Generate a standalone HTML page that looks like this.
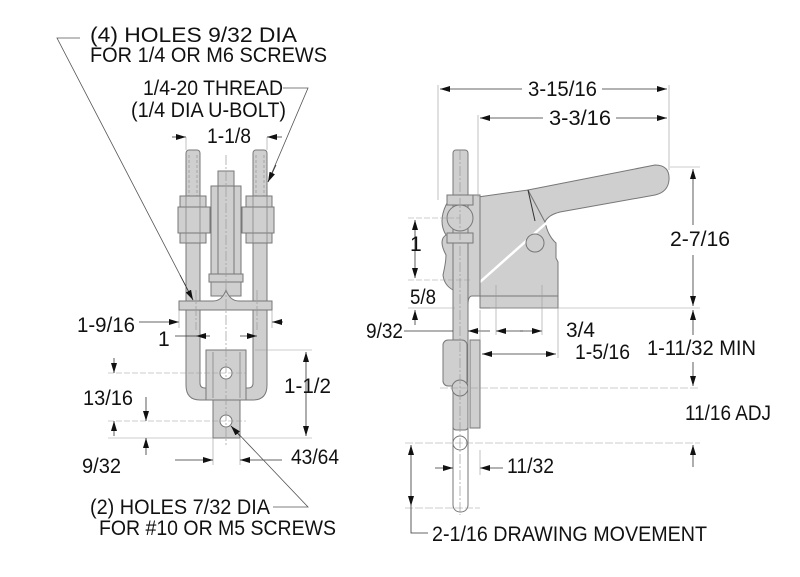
<!DOCTYPE html>
<html><head><meta charset="utf-8"><style>
html,body{margin:0;padding:0;background:#fff}
svg{display:block}
text{font-family:"Liberation Sans",Arial,sans-serif;font-size:21px;fill:#111}
.p{fill:#cfcfcf;stroke:#777;stroke-width:1}
.d{stroke:#333;stroke-width:0.8;fill:none}
.c{stroke:#999;stroke-width:0.7;fill:none;stroke-dasharray:10 2 2 2}
.h{stroke:#888;stroke-width:0.6;fill:none;stroke-dasharray:3 2}
.w{fill:#fff;stroke:#777;stroke-width:1}
</style></head><body>
<svg width="800" height="577" viewBox="0 0 800 577" xmlns="http://www.w3.org/2000/svg">
<defs>
<marker id="a" viewBox="0 0 10 6" refX="10" refY="3" markerWidth="10" markerHeight="6" orient="auto-start-reverse" markerUnits="userSpaceOnUse"><path d="M0,0L10,3L0,6z" fill="#111"/></marker>
</defs>

<!-- ===== LEFT VIEW ===== -->
<rect class="p" x="186" y="150" width="14" height="100" rx="3"/>
<rect class="p" x="253" y="150" width="14" height="100" rx="3"/>
<line class="h" x1="189" y1="155" x2="189" y2="255"/><line class="h" x1="197" y1="155" x2="197" y2="255"/>
<line class="h" x1="256" y1="155" x2="256" y2="255"/><line class="h" x1="264" y1="155" x2="264" y2="255"/>
<path class="p" d="M186,243 L186,385 Q186,400 200,400 L253,400 Q267,400 267,385 L267,243 L253,243 L253,383 Q253,388 248,388 L205,388 Q200,388 200,383 L200,243 Z"/>
<rect class="p" x="218" y="171" width="16" height="20"/>
<rect class="p" x="211" y="186" width="30" height="110"/>
<rect class="p" x="218" y="186" width="16" height="90"/>
<rect class="p" x="209" y="274" width="34" height="8"/>
<rect class="p" x="180" y="196" width="26" height="47"/>
<rect class="p" x="178" y="207" width="32" height="26"/>
<rect class="p" x="246" y="196" width="26" height="47"/>
<rect class="p" x="242" y="207" width="32" height="26"/>
<line x1="186" y1="196" x2="186" y2="243" stroke="#888" stroke-width="0.8"/><line x1="200" y1="196" x2="200" y2="243" stroke="#888" stroke-width="0.8"/>
<line x1="253" y1="196" x2="253" y2="243" stroke="#888" stroke-width="0.8"/><line x1="267" y1="196" x2="267" y2="243" stroke="#888" stroke-width="0.8"/>
<path class="p" d="M179,301 L213,301 Q222,301 226,290 Q230,301 239,301 L272,301 L272,310 L179,310 Z"/>
<rect class="p" x="213" y="398" width="27" height="40"/>
<rect class="p" x="206" y="350" width="40" height="50"/>
<line x1="213" y1="352" x2="213" y2="398" stroke="#888" stroke-width="0.8"/><line x1="240" y1="352" x2="240" y2="398" stroke="#888" stroke-width="0.8"/>
<circle class="w" cx="226" cy="373" r="6"/>
<circle class="w" cx="226" cy="421" r="6"/>
<line class="c" x1="226" y1="155" x2="226" y2="445"/>
<line class="c" x1="196" y1="290" x2="196" y2="330"/><line class="c" x1="257" y1="290" x2="257" y2="330"/>

<line class="d" x1="172" y1="137" x2="186" y2="137" marker-end="url(#a)"/>
<line class="d" x1="267" y1="137" x2="282" y2="137" marker-start="url(#a)"/>
<line x1="186" y1="137" x2="186" y2="150" stroke="#999" stroke-width="0.6"/><line x1="267" y1="137" x2="267" y2="150" stroke="#999" stroke-width="0.6"/>
<text x="207" y="143" textLength="44" lengthAdjust="spacingAndGlyphs">1-1/8</text>
<polyline class="d" points="80,38 57,38 193,300" style="stroke:#555"/>
<line class="d" x1="180" y1="275" x2="193" y2="300" marker-end="url(#a)"/>
<polyline class="d" points="283,88 308,88 268,182" style="stroke:#555"/>
<line class="d" x1="276" y1="165" x2="268" y2="182" marker-end="url(#a)"/>
<text x="90" y="42" textLength="207" lengthAdjust="spacingAndGlyphs">(4) HOLES 9/32 DIA</text>
<text x="90" y="62" textLength="237" lengthAdjust="spacingAndGlyphs">FOR 1/4 OR M6 SCREWS</text>
<text x="143" y="95" textLength="140" lengthAdjust="spacingAndGlyphs">1/4-20 THREAD</text>
<text x="131" y="117" textLength="155" lengthAdjust="spacingAndGlyphs">(1/4 DIA U-BOLT)</text>
<line class="d" x1="139" y1="322" x2="179" y2="322" marker-end="url(#a)"/>
<line class="d" x1="272" y1="322" x2="283" y2="322" marker-start="url(#a)"/>
<line x1="179" y1="310" x2="179" y2="328" stroke="#999" stroke-width="0.6"/><line x1="272" y1="310" x2="272" y2="328" stroke="#999" stroke-width="0.6"/>
<text x="77" y="332" textLength="58" lengthAdjust="spacingAndGlyphs">1-9/16</text>
<line class="d" x1="175" y1="336" x2="196" y2="336"/>
<line class="d" x1="210" y1="336" x2="196" y2="336" marker-end="url(#a)"/>
<line class="d" x1="240" y1="336" x2="257" y2="336" marker-end="url(#a)"/>
<text x="158" y="346">1</text>
<line x1="255" y1="350" x2="312" y2="350" stroke="#999" stroke-width="0.6"/>
<line x1="243" y1="438" x2="312" y2="438" stroke="#999" stroke-width="0.6"/>
<line class="d" x1="306" y1="352" x2="306" y2="436" marker-start="url(#a)" marker-end="url(#a)"/>
<text x="284" y="393" textLength="47" lengthAdjust="spacingAndGlyphs">1-1/2</text>
<line x1="108" y1="373" x2="246" y2="373" stroke="#999" stroke-width="0.6" stroke-dasharray="6 2"/>
<line x1="108" y1="421" x2="246" y2="421" stroke="#999" stroke-width="0.6" stroke-dasharray="6 2"/>
<line x1="108" y1="438" x2="213" y2="438" stroke="#999" stroke-width="0.6"/>
<line class="d" x1="114" y1="358" x2="114" y2="373" marker-end="url(#a)"/>
<line class="d" x1="146" y1="397" x2="146" y2="421" marker-end="url(#a)"/>
<line class="d" x1="114" y1="436" x2="114" y2="421" marker-end="url(#a)"/>
<line class="d" x1="146" y1="455" x2="146" y2="438" marker-end="url(#a)"/>
<text x="83" y="405" textLength="50" lengthAdjust="spacingAndGlyphs">13/16</text>
<text x="82" y="473" textLength="39" lengthAdjust="spacingAndGlyphs">9/32</text>
<line x1="213" y1="438" x2="213" y2="465" stroke="#999" stroke-width="0.6"/>
<line x1="240" y1="438" x2="240" y2="465" stroke="#999" stroke-width="0.6"/>
<line class="d" x1="175" y1="460" x2="213" y2="460" marker-end="url(#a)"/>
<line class="d" x1="282" y1="460" x2="240" y2="460" marker-end="url(#a)"/>
<text x="291" y="464" textLength="48" lengthAdjust="spacingAndGlyphs">43/64</text>
<polyline class="d" points="273,507 308,507 231,426" style="stroke:#555"/>
<line class="d" x1="240" y1="436" x2="231" y2="426" marker-end="url(#a)"/>
<text x="90" y="514" textLength="180" lengthAdjust="spacingAndGlyphs">(2) HOLES 7/32 DIA</text>
<text x="99" y="535" textLength="237" lengthAdjust="spacingAndGlyphs">FOR #10 OR M5 SCREWS</text>

<!-- ===== RIGHT VIEW ===== -->
<path class="p" d="M478,197 L528,190 L545,222 Q548,236 556,243 L556,258 L558,262 L558,296 L478,296 Z"/>
<path class="p" d="M528,190 L655,165 Q670,165 669,180 Q668,192 655,195 L560,212 Q548,215 545,222 Z"/>
<path d="M552,218 L480,282" stroke="#fff" stroke-width="2.5"/>
<line x1="528" y1="190" x2="535" y2="221" stroke="#333" stroke-width="1"/>
<circle class="p" cx="535" cy="243" r="9"/>
<rect class="p" x="480" y="296" width="78" height="12"/>
<line x1="496" y1="285" x2="496" y2="308" stroke="#999" stroke-width="0.6"/><line x1="542" y1="285" x2="542" y2="308" stroke="#999" stroke-width="0.6"/>
<path class="p" d="M452,195 L480,195 L480,296 L472,296 Q468,296 468,305 L453,308 L453,290 Q444,285 443,275 Q446,262 446,255 Q438,240 446,235 Q438,222 446,205 Z"/>
<rect class="w" x="453" y="420" width="15" height="92" rx="7"/>
<rect class="p" x="453" y="150" width="15" height="280" rx="3"/>
<rect class="p" x="447" y="195" width="26" height="10"/>
<circle class="p" cx="460" cy="218" r="13"/>
<rect class="p" x="447" y="233" width="26" height="10"/>
<rect class="p" x="443" y="340" width="24" height="46" rx="5"/>
<rect class="p" x="470" y="340" width="10" height="88"/>
<circle class="p" cx="460" cy="388" r="8"/>
<circle class="w" cx="460" cy="443" r="7"/>
<line class="c" x1="460" y1="150" x2="460" y2="515"/>

<line x1="438" y1="85" x2="438" y2="200" stroke="#999" stroke-width="0.6"/>
<line x1="669" y1="85" x2="669" y2="170" stroke="#999" stroke-width="0.6"/>
<line x1="478" y1="115" x2="478" y2="197" stroke="#999" stroke-width="0.6"/>
<line class="d" x1="440" y1="89" x2="522" y2="89" marker-start="url(#a)"/>
<line class="d" x1="602" y1="89" x2="667" y2="89" marker-end="url(#a)"/>
<text x="528" y="96" textLength="69" lengthAdjust="spacingAndGlyphs">3-15/16</text>
<line class="d" x1="480" y1="118" x2="543" y2="118" marker-start="url(#a)"/>
<line class="d" x1="616" y1="118" x2="667" y2="118" marker-end="url(#a)"/>
<text x="549" y="125" textLength="62" lengthAdjust="spacingAndGlyphs">3-3/16</text>
<line x1="670" y1="167" x2="700" y2="167" stroke="#999" stroke-width="0.6"/>
<line class="d" x1="693" y1="169" x2="693" y2="225" marker-start="url(#a)"/>
<line class="d" x1="693" y1="255" x2="693" y2="306" marker-end="url(#a)"/>
<text x="670" y="246" textLength="60" lengthAdjust="spacingAndGlyphs">2-7/16</text>
<line x1="490" y1="308" x2="700" y2="308" stroke="#999" stroke-width="0.6"/>
<line class="d" x1="693" y1="310" x2="693" y2="335" marker-start="url(#a)"/>
<line class="d" x1="693" y1="362" x2="693" y2="386" marker-end="url(#a)"/>
<text x="647" y="355" textLength="109" lengthAdjust="spacingAndGlyphs">1-11/32 MIN</text>
<line x1="440" y1="388" x2="700" y2="388" stroke="#999" stroke-width="0.6" stroke-dasharray="8 2"/>
<text x="685" y="420" textLength="86" lengthAdjust="spacingAndGlyphs">11/16 ADJ</text>
<line x1="405" y1="443" x2="700" y2="443" stroke="#999" stroke-width="0.6" stroke-dasharray="8 2"/>
<line class="d" x1="693" y1="467" x2="693" y2="445" marker-end="url(#a)"/>
<line x1="408" y1="218" x2="460" y2="218" stroke="#999" stroke-width="0.6" stroke-dasharray="6 2"/>
<line x1="408" y1="280" x2="470" y2="280" stroke="#999" stroke-width="0.6" stroke-dasharray="6 2"/>
<line class="d" x1="415" y1="220" x2="415" y2="278" marker-start="url(#a)" marker-end="url(#a)"/>
<text x="410" y="251">1</text>
<text x="410" y="304" textLength="26" lengthAdjust="spacingAndGlyphs">5/8</text>
<line class="d" x1="415" y1="325" x2="415" y2="310" marker-end="url(#a)"/>
<line x1="408" y1="308" x2="455" y2="308" stroke="#999" stroke-width="0.6"/>
<line x1="404" y1="331" x2="453" y2="331" stroke="#333" stroke-width="0.8"/>
<line class="d" x1="490" y1="331" x2="468" y2="331" marker-end="url(#a)"/>
<line x1="480" y1="310" x2="480" y2="340" stroke="#999" stroke-width="0.6"/>
<text x="366" y="338" textLength="37" lengthAdjust="spacingAndGlyphs">9/32</text>
<line class="d" x1="496" y1="331" x2="523" y2="331" marker-start="url(#a)"/>
<line class="d" x1="520" y1="331" x2="542" y2="331" marker-end="url(#a)"/>
<line x1="542" y1="308" x2="542" y2="335" stroke="#999" stroke-width="0.6"/>
<line x1="496" y1="308" x2="496" y2="335" stroke="#999" stroke-width="0.6"/>
<text x="566" y="337" textLength="29" lengthAdjust="spacingAndGlyphs">3/4</text>
<line class="d" x1="482" y1="354" x2="556" y2="354" marker-start="url(#a)" marker-end="url(#a)"/>
<line x1="558" y1="308" x2="558" y2="358" stroke="#999" stroke-width="0.6"/>
<text x="575" y="359" textLength="55" lengthAdjust="spacingAndGlyphs">1-5/16</text>
<line class="d" x1="435" y1="468" x2="453" y2="468" marker-end="url(#a)"/>
<line class="d" x1="503" y1="468" x2="480" y2="468" marker-end="url(#a)"/>
<line x1="480" y1="450" x2="480" y2="475" stroke="#999" stroke-width="0.6"/>
<text x="507" y="473" textLength="47" lengthAdjust="spacingAndGlyphs">11/32</text>
<line x1="405" y1="508" x2="480" y2="508" stroke="#999" stroke-width="0.6" stroke-dasharray="8 2"/>
<line class="d" x1="411" y1="445" x2="411" y2="506" marker-start="url(#a)" marker-end="url(#a)"/>
<polyline class="d" points="411,506 411,533 428,533"/>
<text x="432" y="541" textLength="275" lengthAdjust="spacingAndGlyphs">2-1/16 DRAWING MOVEMENT</text>
</svg>
</body></html>
